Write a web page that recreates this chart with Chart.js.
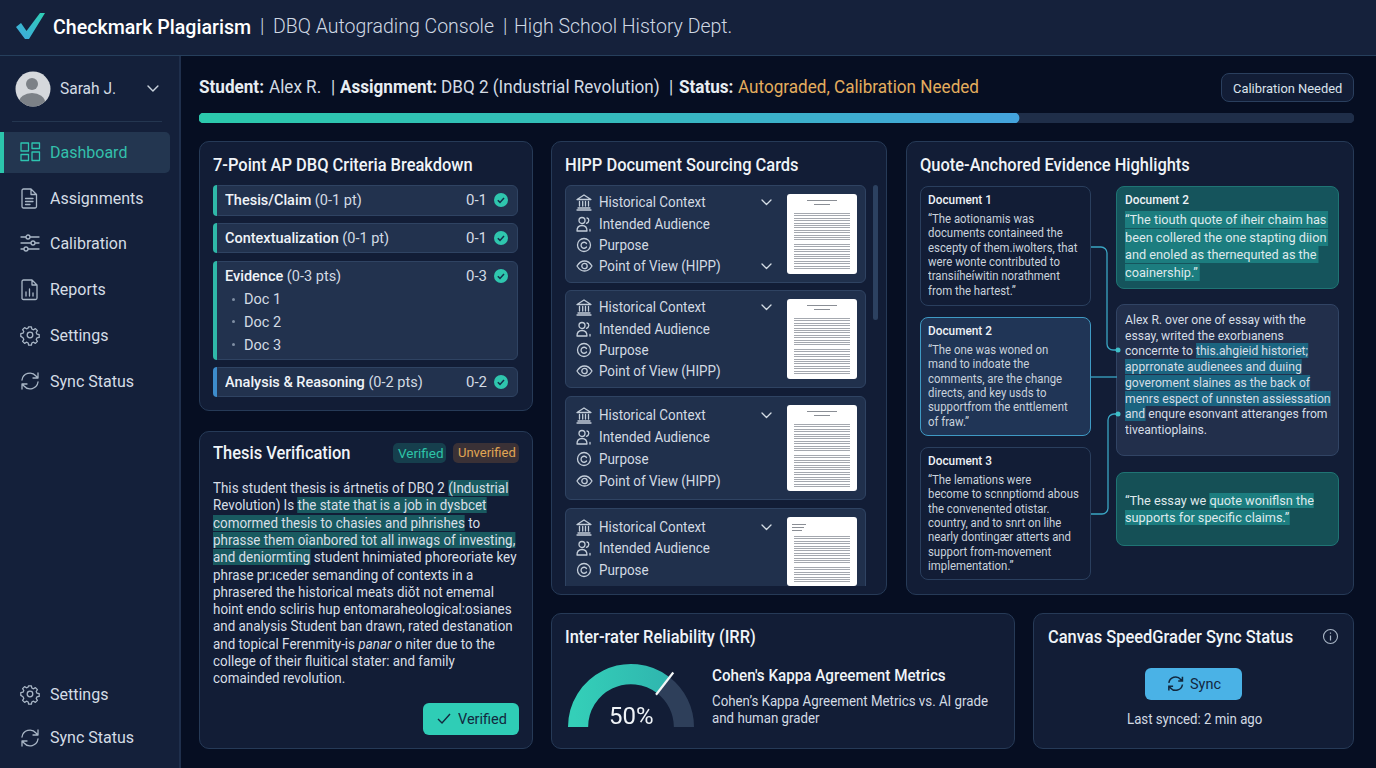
<!DOCTYPE html>
<html>
<head>
<meta charset="utf-8">
<title>DBQ Autograding Console</title>
<script src="https://cdn.jsdelivr.net/npm/chart.js@4/dist/chart.umd.min.js"></script>
<style>
  * { box-sizing: border-box; }
  html, body { margin: 0; width: 1376px; height: 768px; overflow: hidden; background: #060e22; }
  body { position: relative; font-family: Roboto, sans-serif; color: #dfe6ee; }
  .box { position: absolute; border-radius: 8px; }
  .t { position: absolute; white-space: nowrap; transform-origin: left center; }
  .card { background: #121d36; border: 1px solid #263a57; border-radius: 10px; }
  .row { background: #22324e; border: 1px solid #2f4362; border-radius: 6px; }
  .hl { background: #195a60; }
  .hb { background: #1b6480; }
  .hq { background: #1c7d7f; }
  b { font-weight: 500; color: #f0f4f8; }
  svg { position: absolute; overflow: visible; }
  canvas { position: absolute; }
  .thumb { background: #fff; border-radius: 3px; overflow: hidden; }
  .thumb i { position: absolute; display: block; background: repeating-linear-gradient(#a4a8af 0 1px, #fff 1px 2.4px); }
  .thumb u { position: absolute; display: block; background: #8a8e95; height: 1px; }
</style>
</head>
<body>
<div id="app"></div>
<canvas id="progressChart" style="left:199px;top:112px;width:1155px;height:12px"></canvas>
<canvas id="gaugeChart" style="left:556px;top:652px;width:150px;height:80px"></canvas>
<script>
const progressValues = [71];
const progressTrack = [100];
const gaugeValues = [71, 29];
const gaugeLabel = '50%';

const navItems = ['Dashboard', 'Assignments', 'Calibration', 'Reports', 'Settings', 'Sync Status'];
const navY = [153, 199, 244, 290, 336, 382];
const criteria = [
  ['Thesis/Claim', '(0-1 pt)', '0-1', 200],
  ['Contextualization', '(0-1 pt)', '0-1', 238],
  ['Evidence', '(0-3 pts)', '0-3', 276],
  ['Analysis & Reasoning', '(0-2 pts)', '0-2', 382]
];
const evidenceDocs = ['Doc 1', 'Doc 2', 'Doc 3'];
const hippLabels = ['Historical Context', 'Intended Audience', 'Purpose', 'Point of View (HIPP)'];

const thesisLines = [
  'This student thesis is ártnetis of DBQ 2 <span class="hl">(Industrial</span>',
  'Revolution) Is <span class="hl">the state that is a job in dysbcet</span>',
  '<span class="hl">comormed thesis to chasies and pihrishes</span> to',
  '<span class="hl">phrasse them oîanbored tot all inwags of investing,</span>',
  '<span class="hl">and deniormting</span> student hnimiated phoreoriate key',
  'phrase pr:ıceder semanding of contexts in a',
  'phrasered the historical meats diŏt not ememal',
  'hoint endo scliris hup entomaraheological:osianes',
  'and analysis Student ban drawn, rated destanation',
  'and topical Ferenmity-is <i>panar o</i> niter due to the',
  'college of their fluitical stater: and family',
  'comainded revolution.'
];
const doc1Lines = ['“The aotionamis was', 'documents containeed the', 'escepty of them.iwolters, that', 'were wonte contributed to', 'transiíheíwitin norathment', 'from the hartest.”'];
const doc2Lines = ['“The one was woned on', 'mand to indoate the', 'comments, are the change', 'directs, and key usds to', 'supportfrom the enttlement', 'of fraw.”'];
const doc3Lines = ['“The lemations were', 'become to scnnptiomd abous', 'the convenented otistar.', 'country, and to snrt on lihe', 'nearly dontingær atterts and', 'support from-movement', 'implementation.”'];
const quoteLines = ['“The tiouth quote of iheir chaim has', 'been collered the one stapting diion', 'and enoled as thernequıted as the', 'coainership.”'];
const essayLines = [
  'Alex R. over one of essay with the',
  'essay, writed the exorbıanens',
  'concernte to <span class="hb">this.ahgieid historiet;</span>',
  '<span class="hb">apprronate audienees and duıing</span>',
  '<span class="hb">goveroment slaines as the back of</span>',
  '<span class="hb">menrs espect of unnsten assiessation</span>',
  '<span class="hb">and</span> enqure esonvant atteranges from',
  'tiveantioplains.'
];
const claimLines = ['“The essay we <span class="hq">quote woniflsn the</span>', '<span class="hq">supports for specific claims.”</span>'];

const stroke = 'fill="none" stroke="currentColor" stroke-width="1.3" stroke-linecap="round" stroke-linejoin="round"';
const gear = '<circle cx="9" cy="9" r="2.8"/><path d="M7.6 0.8h2.8l.4 2.2 1.7.8 1.9-1.2 2 2-1.2 1.9.8 1.7 2.2.4v2.8l-2.2.4-.8 1.7 1.2 1.9-2 2-1.9-1.2-1.7.8-.4 2.2H7.6l-.4-2.2-1.7-.8-1.9 1.2-2-2 1.2-1.9-.8-1.7L-.2 10.4V7.6l2.2-.4.8-1.7L1.6 3.6l2-2 1.9 1.2 1.7-.8z"/>';
const sync = '<path d="M1 8a8 8 0 0 1 14-4l2 2M17 1v5h-5M17 10a8 8 0 0 1-14 4l-2-2M1 17v-5h5"/>';
const icons = {
  Dashboard: '<rect x="0" y="0" width="7.5" height="8"/><rect x="11" y="0" width="7.5" height="5.5"/><rect x="0" y="11.5" width="7.5" height="6"/><rect x="11" y="9" width="7.5" height="8.5"/>',
  Assignments: '<path d="M1 1.5A1.5 1.5 0 0 1 2.5 0H10l5.5 5.5v12a1.5 1.5 0 0 1-1.5 1.5H2.5A1.5 1.5 0 0 1 1 17.5zM10 0v5.5h5.5M4.5 9.5H12M4.5 12.5H12M4.5 15.5H9"/>',
  Calibration: '<path d="M0 3h5M9 3h9M0 9h10M14 9h4M0 15h3M7 15h11"/><circle cx="7" cy="3" r="2"/><circle cx="12" cy="9" r="2"/><circle cx="5" cy="15" r="2"/>',
  Reports: '<path d="M1 1.5A1.5 1.5 0 0 1 2.5 0H11l5 5v13a1.5 1.5 0 0 1-1.5 1.5h-12A1.5 1.5 0 0 1 1 18.5zM11 0v5h5M5 16v-4M8.5 16V9M12 16v-3"/>',
  Settings: gear,
  'Sync Status': sync,
  bank: '<path d="M0 4.5L7 0l7 4.5zM1 13h12M0 15h14M2.5 6.5V11M5.7 6.5V11M8.5 6.5V11M11.5 6.5V11"/>',
  people: '<circle cx="5" cy="3.5" r="3"/><path d="M0 14c0-3.5 2.2-5.5 5-5.5s5 2 5 5.5zM10 1c2.5.5 2.5 4-.5 5.3M13 14v-1.5"/>',
  purpose: '<circle cx="7" cy="7" r="6.5"/><path d="M9.5 5.5A3 3 0 1 0 9.5 9"/>',
  eye: '<path d="M0 7c2-3.3 4.5-5 7.5-5s5.5 1.7 7.5 5c-2 3.3-4.5 5-7.5 5S2 10.3 0 7z"/><circle cx="7.5" cy="7" r="2.7"/>',
  chev: '<path d="M0 0l4.5 4.5L9 0"/>'
};

// reference glyphs are a touch narrower than Roboto, so squeeze widths a bit
const fit = (size, sx) => `font-size:${size}px;transform:scaleX(${sx});`;
const titleStyle = fit(17.5, .94) + 'font-weight:500;color:#f0f4f8';
const bodyStyle = 'font-weight:400;color:#d3dbe4';

let html = '';
function text(x, y, content, style) {
  // y is the vertical centre of the line
  html += `<div class="t" style="left:${x}px;top:${y - 15}px;line-height:30px;${style || ''}">${content}</div>`;
}
function box(x, y, x2, y2, cls, style) {
  html += `<div class="box ${cls || ''}" style="left:${x}px;top:${y}px;width:${x2 - x}px;height:${y2 - y}px;${style || ''}"></div>`;
}
function icon(name, x, y, color, scale) {
  html += `<svg style="left:${x}px;top:${y}px;color:${color || '#a9b6c6'}" width="20" height="20"><g transform="scale(${scale || 1})" ${stroke}>${icons[name]}</g></svg>`;
}
function lines(x, y, step, list, style) {
  list.forEach((line, i) => text(x, y + i * step, line, style));
}
function thumb(x, y, y2, variant) {
  let inner = '';
  if (variant) {
    inner += '<u style="left:5px;top:7px;width:14px"></u><u style="left:5px;top:10px;width:12px"></u><u style="left:5px;top:13px;width:10px"></u>';
  } else {
    inner += '<u style="left:20px;top:6px;width:30px"></u><u style="left:27px;top:10px;width:16px"></u>';
  }
  inner += `<i style="left:7px;top:19px;width:56px;height:28px"></i><i style="left:7px;top:50px;width:56px;height:${y2 - y - 54}px"></i>`;
  html += `<div class="box thumb" style="left:${x}px;top:${y}px;width:70px;height:${y2 - y}px">${inner}</div>`;
}

// page shell
box(0, 0, 1376, 55, '', 'background:#15213b;border-radius:0');
box(0, 55, 1376, 56, '', 'background:#263f5c;border-radius:0');
box(0, 56, 179, 768, '', 'background:#14203a;border-radius:0');
box(179, 56, 181, 768, '', 'background:#1f2f4c;border-radius:0');
html += `<svg style="left:16px;top:13px" width="30" height="28"><defs><linearGradient id="lg" x1="0" y1="1" x2="1" y2="0"><stop offset="0" stop-color="#3fa7e0"/><stop offset="1" stop-color="#2ed0b4"/></linearGradient></defs><path d="M0 14l5-4 5.5 8L24 0h5L13 26H9z" fill="url(#lg)"/></svg>`;
text(53, 27, 'Checkmark Plagiarism', fit(20, .98) + 'font-weight:500;color:#fff');
text(260, 27, '|', 'font-size:19.5px;color:#cfd8e3;font-weight:300');
text(273, 27, 'DBQ Autograding Console', 'font-size:19.5px;color:#cfd8e3;font-weight:300');
text(503, 27, '|', 'font-size:19.5px;color:#cfd8e3;font-weight:300');
text(514, 27, 'High School History Dept.', 'font-size:19.5px;color:#cfd8e3;font-weight:300');

// sidebar
html += `<svg style="left:15px;top:71px" width="36" height="36"><defs><clipPath id="av"><circle cx="18" cy="18" r="17.5"/></clipPath></defs><circle cx="18" cy="18" r="17.5" fill="#d5d8dc"/><g clip-path="url(#av)" fill="#7c8187"><circle cx="17" cy="13" r="6"/><ellipse cx="17" cy="31" rx="13" ry="9"/></g></svg>`;
text(60, 89, 'Sarah J.', fit(16, .97) + bodyStyle);
icon('chev', 148, 86, '#c9d2dc', 1.1);
box(12, 121, 162, 122, '', 'background:#243650;border-radius:0');
box(0, 132, 170, 173, '', 'background:#233650;border-radius:0 5px 5px 0');
box(0, 132, 4, 173, '', 'background:#2cc5ac;border-radius:0');
navItems.forEach((name, i) => {
  const active = i === 0;
  icon(name, 21, navY[i] - 10, active ? '#2ec4b0' : '#a9b6c6');
  text(50, navY[i], name, fit(16.5, .97) + `font-weight:400;color:${active ? '#33c0ac' : '#d5dde6'}`);
});
icon('Settings', 21, 685, '#a9b6c6');
text(50, 695, 'Settings', fit(16.5, .97) + 'font-weight:400;color:#d5dde6');
icon('Sync Status', 21, 729, '#a9b6c6');
text(50, 738, 'Sync Status', fit(16.5, .97) + 'font-weight:400;color:#d5dde6');

// status line
const statusFit = fit(18, .95);
const statusBold = statusFit + 'font-weight:700;color:#e8edf2';
const statusBody = statusFit + bodyStyle;
text(199, 87, 'Student:', statusBold);
text(269, 87, 'Alex R.', statusBody);
text(331, 87, '|', statusBody);
text(340, 87, 'Assignment:', statusBold);
text(441, 87, 'DBQ 2 (Industrial Revolution)', statusBody);
text(669, 87, '|', statusBody);
text(679, 87, 'Status:', statusBold);
text(738, 87, 'Autograded, Calibration Needed', statusFit + 'color:#e3ad5e');
box(1221, 73, 1354, 102, '', 'background:#121d36;border:1px solid #2a3f5e');
text(1233, 88, 'Calibration Needed', fit(13.5, .955) + 'color:#dbe3ec');

// criteria card
box(199, 141, 533, 411, 'card');
text(213, 165, '7-Point AP DBQ Criteria Breakdown', titleStyle);
[[185, 216], [223, 253], [261, 360], [367, 397]].forEach(([a, b], i) => {
  box(213, a, 518, b, 'row');
  box(213, a, 217, b, '', `background:${i === 3 ? '#3d8ccc' : '#2fb8a8'};border-radius:4px 0 0 4px`);
});
criteria.forEach(([name, pts, score, y]) => {
  text(225, y, `<b>${name}</b> ${pts}`, fit(15, .967) + bodyStyle);
  text(466, y, score, `font-size:15px;${bodyStyle}`);
  html += `<svg style="left:494px;top:${y - 7}px" width="14" height="14"><circle cx="7" cy="7" r="7" fill="#2fc6ae"/><path d="M3.8 7.2l2.2 2.2 4-4.3" fill="none" stroke="#14304a" stroke-width="1.5"/></svg>`;
});
evidenceDocs.forEach((name, i) => {
  const y = 299 + i * 22.8;
  box(232, y - 1.5, 235, y + 1.5, '', 'background:#7f8ea3;border-radius:50%');
  text(244, y, name, fit(15, .967) + bodyStyle);
});

// thesis card
box(199, 431, 533, 749, 'card');
text(213, 453, 'Thesis Verification', titleStyle);
box(393, 443, 446, 463, '', 'background:#163f4d;border-radius:5px');
text(398, 453, 'Verified', 'font-size:13.5px;color:#2ec4a8');
box(453, 443, 519, 463, '', 'background:#3a3136;border-radius:5px');
text(458, 453, 'Unverified', 'font-size:13px;color:#e0a654');
lines(213, 488, 17.3, thesisLines, fit(14, .957) + 'font-weight:400;color:#d8dfe7');
box(423, 703, 519, 735, '', 'background:#2fcdb6;border-radius:6px');
html += `<svg style="left:437px;top:713px;color:#12283e" width="14" height="12"><path d="M1 6l4 4 8-9" fill="none" stroke="currentColor" stroke-width="1.4"/></svg>`;
text(458, 719, 'Verified', fit(15, .967) + 'color:#12283e');

// HIPP card
box(551, 141, 887, 595, 'card');
text(565, 165, 'HIPP Document Sourcing Cards', titleStyle);
box(873, 185, 878, 320, '', 'background:#2c4160;border-radius:3px');
const hippCards = [
  { top: 185, bottom: 283, rows: [202, 224, 245, 266], chev: [202, 266], th: [194, 274], v: 0 },
  { top: 290, bottom: 388, rows: [307, 329, 350, 371], chev: [307], th: [299, 379], v: 0 },
  { top: 396, bottom: 500, rows: [415, 437, 459, 481], chev: [415], th: [405, 491], v: 0 },
  { top: 508, bottom: 586, rows: [527, 548, 570], chev: [527], th: [517, 586], v: 1 }
];
const hippIcons = ['bank', 'people', 'purpose', 'eye'];
hippCards.forEach((c, n) => {
  box(565, c.top, 866, c.bottom, 'row', `background:#20304c;${n === 3 ? 'border-bottom:0;border-radius:6px 6px 0 0' : ''}`);
  c.rows.forEach((y, i) => {
    icon(hippIcons[i], 577, y - 7, '#c3cdd9', 1);
    text(599, y, hippLabels[i], fit(14, .957) + bodyStyle);
  });
  c.chev.forEach((y) => icon('chev', 762, y - 2, '#d5dde6', 1));
  thumb(787, c.th[0], c.th[1], c.v);
});

// evidence card
box(906, 141, 1354, 595, 'card');
text(920, 165, 'Quote-Anchored Evidence Highlights', titleStyle);
box(920, 186, 1091, 306, '', 'border:1px solid #2a3f5e');
box(920, 317, 1091, 436, '', 'background:#203556;border:1.5px solid #3f9ac4');
box(920, 447, 1091, 580, '', 'border:1px solid #2a3f5e');
box(1116, 186, 1339, 289, '', 'background:#15545c;border:1px solid #1f7474');
box(1116, 304, 1339, 456, '', 'background:#222f4b;border:1px solid #314464');
box(1116, 472, 1339, 546, '', 'background:#155056;border:1px solid #1f7474');
const docHead = fit(12.5, .945) + 'font-weight:500;color:#eef2f6';
const docBody = fit(12.3, .925) + 'font-weight:400;color:#c9d2dc';
text(928, 200, 'Document 1', docHead);
lines(928, 219, 14.35, doc1Lines, docBody);
text(928, 331, 'Document 2', docHead);
lines(928, 350, 14.35, doc2Lines, docBody);
text(928, 461, 'Document 3', docHead);
lines(928, 480, 14.3, doc3Lines, docBody);
text(1125, 200, 'Document 2', docHead);
lines(1125, 220, 17.6, quoteLines.map((l) => `<span class="hq" style="padding:1px 2px 1px 0">${l}</span>`), fit(13.3, .958) + 'font-weight:400;color:#dfe9ec');
lines(1125, 320, 15.7, essayLines, fit(13, .935) + 'font-weight:400;color:#d5dde6');
lines(1125, 500.5, 17, claimLines, fit(13.3, .958) + 'font-weight:400;color:#dfe9ec');
html += `<svg style="left:0;top:0" width="1376" height="768"><g fill="none" stroke="#3aa6c4" stroke-width="1.3">
  <path d="M1091 247h10a6 6 0 0 1 6 6v91a6 6 0 0 0 6 6h5"/><path d="M1091 377h26"/><path d="M1091 514h11a6 6 0 0 0 6-6v-88a6 6 0 0 1 6-6h4"/></g>
  <circle cx="1118" cy="350" r="2.5" fill="#3fc0c8"/><circle cx="1118" cy="414" r="2.5" fill="#3fc0c8"/></svg>`;

// IRR card
box(551, 613, 1015, 749, 'card');
text(565, 637, 'Inter-rater Reliability (IRR)', titleStyle);
text(712, 676, "Cohen's Kappa Agreement Metrics", fit(16, .95) + 'font-weight:500;color:#f0f4f8');
text(712, 701, 'Cohen’s Kappa Agreement Metrics vs. AI grade', fit(14, .95) + bodyStyle);
text(712, 718, 'and human grader', fit(14, .95) + bodyStyle);
text(609, 716, gaugeLabel, 'font-size:24px;font-weight:400;color:#f0f4f8;z-index:2');

// sync card
box(1033, 613, 1354, 749, 'card');
text(1048, 637, 'Canvas SpeedGrader Sync Status', titleStyle);
html += `<svg style="left:1323px;top:629px;color:#a9b6c6" width="15" height="15"><circle cx="7.5" cy="7.5" r="7" fill="none" stroke="currentColor" stroke-width="1.1"/><path d="M7.5 6.5v5M7.5 3.5v1.3" stroke="currentColor" stroke-width="1.2"/></svg>`;
box(1145, 668, 1242, 700, '', 'background:#4ab2e6;border-radius:6px');
html += `<svg style="left:1168px;top:676px;color:#12283e" width="16" height="16"><g transform="scale(.85)" fill="none" stroke="currentColor" stroke-width="1.8">${sync}</g></svg>`;
text(1190, 684, 'Sync', fit(15, .967) + 'color:#12283e');
text(1127, 719, 'Last synced: 2 min ago', fit(14, .945) + bodyStyle);

document.getElementById('app').innerHTML = html;

// completion bar
new Chart(document.getElementById('progressChart'), {
  type: 'bar',
  data: {
    labels: ['Progress'],
    datasets: [
      {
        data: progressValues,
        order: 0,
        backgroundColor(context) {
          const area = context.chart.chartArea;
          if (!area) return '#2cc9ae';
          const width = area.width * progressValues[0] / 100;
          const grad = context.chart.ctx.createLinearGradient(area.left, 0, area.left + width, 0);
          grad.addColorStop(0, '#2bc9ac');
          grad.addColorStop(.45, '#33bdb9');
          grad.addColorStop(1, '#44a3dd');
          return grad;
        }
      },
      { data: progressTrack, order: 1, backgroundColor: '#1f2e49' }
    ]
  },
  options: {
    indexAxis: 'y',
    responsive: false,
    animation: false,
    layout: { padding: { top: 1, bottom: 1 } },
    datasets: { bar: { grouped: false, barThickness: 10, borderRadius: 5, borderSkipped: false } },
    plugins: { legend: { display: false }, tooltip: { enabled: false } },
    scales: {
      x: { display: false, min: 0, max: 100 },
      y: { display: false }
    }
  }
});

// white tick at the end of the filled part of the gauge
const gaugeTick = {
  id: 'gaugeTick',
  afterDatasetsDraw(chart) {
    const arc = chart.getDatasetMeta(0).data[0];
    const { ctx } = chart;
    const cos = Math.cos(arc.endAngle);
    const sin = Math.sin(arc.endAngle);
    ctx.save();
    ctx.strokeStyle = '#f4f7f8';
    ctx.lineWidth = 2.2;
    ctx.beginPath();
    ctx.moveTo(arc.x + cos * (arc.innerRadius - 2), arc.y + sin * (arc.innerRadius - 2));
    ctx.lineTo(arc.x + cos * (arc.outerRadius + 6), arc.y + sin * (arc.outerRadius + 6));
    ctx.stroke();
    ctx.restore();
  }
};

new Chart(document.getElementById('gaugeChart'), {
  type: 'doughnut',
  data: {
    labels: ['Agreement', 'Remaining'],
    datasets: [{
      data: gaugeValues,
      borderWidth: 0,
      backgroundColor(context) {
        if (context.dataIndex === 1) return '#2e3f5a';
        const grad = context.chart.ctx.createLinearGradient(18, 0, 118, 0);
        grad.addColorStop(0, '#34cfb8');
        grad.addColorStop(1, '#2fb4ae');
        return grad;
      }
    }]
  },
  options: {
    responsive: false,
    animation: false,
    rotation: -90,
    circumference: 180,
    cutout: '68%',
    layout: { padding: { top: 12, bottom: 5, left: 12, right: 12 } },
    plugins: { legend: { display: false }, tooltip: { enabled: false } }
  },
  plugins: [gaugeTick]
});
</script>
</body>
</html>
